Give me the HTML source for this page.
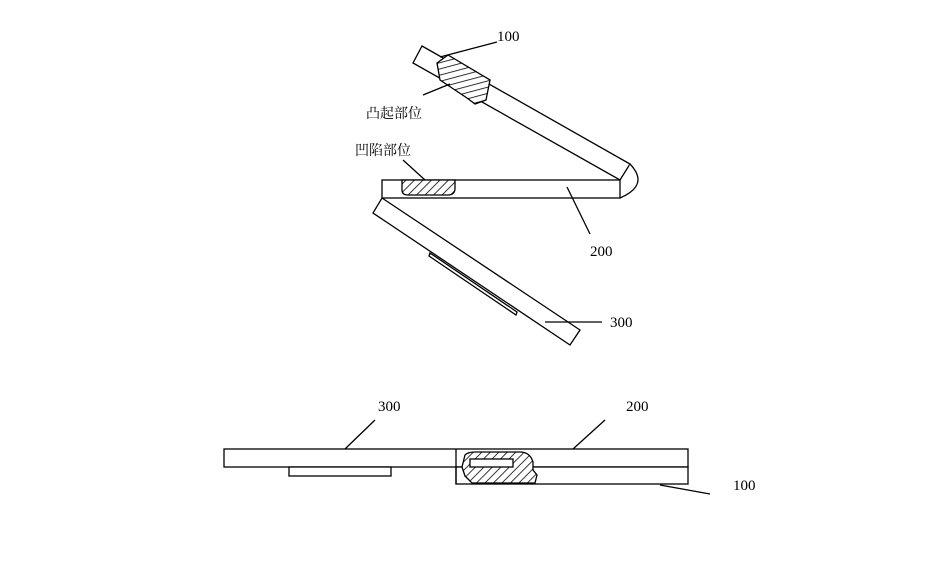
<!DOCTYPE html>
<html><head><meta charset="utf-8"><style>html,body{margin:0;padding:0;background:#fff}svg{display:block}</style></head>
<body>
<svg width="936" height="578" viewBox="0 0 936 578" xmlns="http://www.w3.org/2000/svg">
<defs>
<pattern id="h" patternUnits="userSpaceOnUse" width="6" height="6" patternTransform="rotate(45)">
<rect width="6" height="6" fill="#fff"/><line x1="0" y1="0" x2="0" y2="6" stroke="#000" stroke-width="1.6"/>
</pattern>
<pattern id="h2" patternUnits="userSpaceOnUse" width="6" height="6" patternTransform="rotate(-15)">
<rect width="6" height="6" fill="#fff"/><line x1="0" y1="0" x2="6" y2="0" stroke="#000" stroke-width="1.6"/>
</pattern>
</defs>
<g fill="none" stroke="#000" stroke-width="1.3">
<polygon points="422,46 630,164 620,180 413,63" fill="#fff"/>
<path d="M437,63 L448,55 L490,80 L486,100 L475,104 L467,98 L440,80 Z" fill="url(#h2)"/>
<path d="M630,164 Q650,185 620,198" fill="#fff"/>
<rect x="382" y="180" width="238" height="18" fill="#fff"/>
<path d="M402,180 L402,190 Q402,195 408,195 L448,195 Q455,195 455,188 L455,180 Z" fill="url(#h)"/>
<polygon points="382,198 580,330 570,345 373,213" fill="#fff"/>
<polygon points="430,253 517,312 516,315 429,256" fill="#fff"/>
<line x1="497" y1="42" x2="440" y2="57"/>
<line x1="423" y1="95" x2="450" y2="84"/>
<line x1="403" y1="160" x2="425" y2="180"/>
<line x1="567" y1="187" x2="590" y2="234"/>
<line x1="545" y1="322" x2="602" y2="322"/>
<rect x="224" y="449" width="464" height="18" fill="#fff"/>
<rect x="456" y="467" width="232" height="17" fill="#fff"/>
<line x1="456" y1="449" x2="456" y2="484"/>
<rect x="289" y="467" width="102" height="9" fill="#fff"/>
<path d="M462,467 L465,455 Q468,452 475,452 L520,452 Q530,452 533,462 L533,470 L537,475 L535,483 L472,483 L465,476 Z" fill="url(#h)"/>
<rect x="470" y="459" width="43" height="8" fill="#fff"/>
<line x1="345" y1="449" x2="375" y2="420"/>
<line x1="573" y1="449" x2="605" y2="420"/>
<line x1="660" y1="485" x2="710" y2="494"/>
</g>
<g font-family="Liberation Serif, 'Noto Serif CJK SC', serif" font-size="15" fill="#000">
<text x="497" y="41">100</text>
<text x="366" y="118" font-family="'Noto Serif CJK SC', serif" font-size="14">凸起部位</text>
<text x="355" y="155" font-family="'Noto Serif CJK SC', serif" font-size="14">凹陷部位</text>
<text x="590" y="256">200</text>
<text x="610" y="327">300</text>
<text x="378" y="411">300</text>
<text x="626" y="411">200</text>
<text x="733" y="490">100</text>
</g>
</svg>
</body></html>
